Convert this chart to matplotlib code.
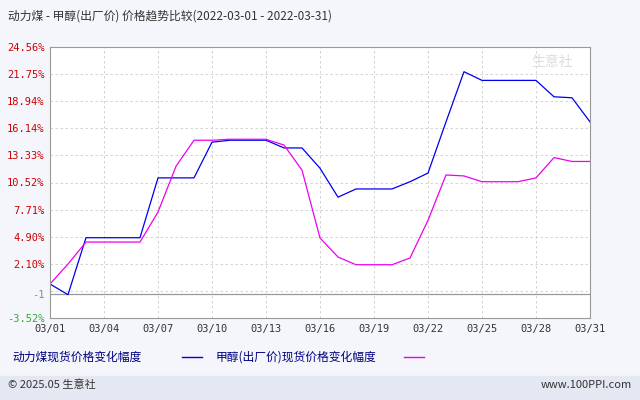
import matplotlib
matplotlib.use("Agg")
import matplotlib.pyplot as plt
plt.rcParams['font.family'] = ['Noto Sans CJK SC']

dates = [f"03/{d:02d}" for d in range(1, 32)]
coal = [0, -1.1, 4.8, 4.8, 4.8, 4.8, 11.0, 11.0, 11.0, 14.7, 14.9, 14.9, 14.9, 14.1, 14.1,
        12.0, 9.0, 9.85, 9.85, 9.85, 10.6, 11.5, 16.8, 22.0, 21.1, 21.1, 21.1, 21.1, 19.4, 19.3, 16.8]
methanol = [0, 2.07, 4.35, 4.35, 4.35, 4.35, 7.46, 12.2, 14.9, 14.9, 15.0, 15.0, 15.0, 14.4, 11.8,
            4.77, 2.8, 2.0, 2.0, 2.0, 2.7, 6.6, 11.3, 11.2, 10.6, 10.6, 10.6, 11.0, 13.1, 12.7, 12.7]
grid_vals = [-0.71, 2.10, 4.90, 7.71, 10.52, 13.33, 16.14, 18.94, 21.75]
ytick_vals = [-3.52, -1, 2.10, 4.90, 7.71, 10.52, 13.33, 16.14, 18.94, 21.75, 24.56]
ytick_labels = ["-3.52%", "-1", "2.10%", "4.90%", "7.71%", "10.52%", "13.33%", "16.14%", "18.94%", "21.75%", "24.56%"]
xtick_idx = list(range(0, 31, 3))

fig = plt.figure(figsize=(6.4, 4.0), dpi=100, facecolor="#f4f6fb")
ax = fig.add_axes([50/640, 1-318/400, 540/640, 271/400])
ax.set_facecolor("white")
x = list(range(31))
for g in grid_vals:
    ax.axhline(g, color="#cccccc", ls=(0, (3, 3)), lw=0.6)
for i in xtick_idx[1:-1]:
    ax.axvline(i, color="#cccccc", ls=(0, (3, 3)), lw=0.6)
ax.axhline(-1, color="#999999", lw=0.9)
ax.plot(x, coal, color="#0000ee", lw=0.9)
ax.plot(x, methanol, color="#ee00ee", lw=0.9)
ax.set_xlim(0, 30)
ax.set_ylim(-3.52, 24.56)
ax.set_yticks(ytick_vals)
ax.set_yticklabels(ytick_labels, fontsize=7.5, family="DejaVu Sans Mono")
for lbl, v in zip(ax.get_yticklabels(), ytick_vals):
    lbl.set_color("#cc0000" if v > 0 else ("#888888" if v == -1 else "#33aa33"))
ax.set_xticks(xtick_idx)
ax.set_xticklabels([dates[i] for i in xtick_idx], fontsize=7.5, color="#333333", family="DejaVu Sans Mono")
ax.tick_params(length=0, pad=4)
for s in ax.spines.values():
    s.set_color("#999999"); s.set_linewidth(0.8)
ax.text(0.93, 0.93, "生意社", transform=ax.transAxes, fontsize=10, color="#dddddd", ha="center")

fig.text(8/640, 1-16/400, "动力煤 - 甲醇(出厂价) 价格趋势比较(2022-03-01 - 2022-03-31)", fontsize=8.5, color="#333333", va="center")
fig.text(12/640, 1-357/400, "动力煤现货价格变化幅度", fontsize=8.5, color="#000080", va="center")
fig.add_artist(matplotlib.lines.Line2D([182/640, 202/640], [1-357/400]*2, color="#0000ee", lw=1))
fig.text(216/640, 1-357/400, "甲醇(出厂价)现货价格变化幅度", fontsize=8.5, color="#000080", va="center")
fig.add_artist(matplotlib.lines.Line2D([404/640, 424/640], [1-357/400]*2, color="#ee00ee", lw=1))
fig.add_artist(matplotlib.patches.Rectangle((0, 0), 1, 24/400, transform=fig.transFigure, color="#e4e8f2"))
fig.text(8/640, 1-385/400, "© 2025.05 生意社", fontsize=8, color="#333333", va="center")
fig.text(632/640, 1-385/400, "www.100PPI.com", fontsize=8, color="#333333", va="center", ha="right")
fig.savefig("out.png", dpi=100, facecolor=fig.get_facecolor())
